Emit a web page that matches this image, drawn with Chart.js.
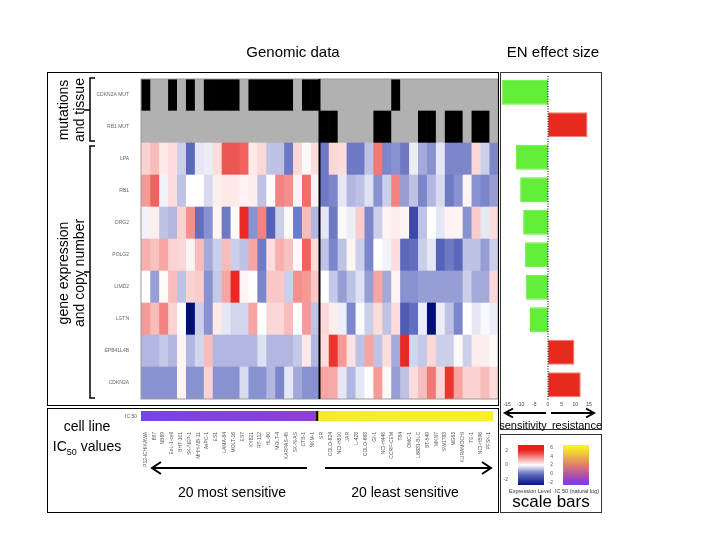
<!DOCTYPE html>
<html>
<head>
<meta charset="utf-8">
<script src="https://cdn.jsdelivr.net/npm/chart.js@4.4.1/dist/chart.umd.min.js"></script>
<style>
  body { margin: 0; background: #fff; }
  #page { position: relative; width: 720px; height: 540px; overflow: hidden; font-family: "Liberation Sans", Arial, sans-serif; }
  canvas { position: absolute; }
  #overlay { position: absolute; left: 0; top: 0; pointer-events: none; }
</style>
</head>
<body>
<div id="page">
  <canvas id="heat" width="451" height="334" style="left:47px;top:72px"></canvas>
  <canvas id="ic50" width="451" height="72" style="left:47px;top:408px"></canvas>
  <canvas id="effect" width="102" height="338" style="left:500px;top:72px"></canvas>
  <canvas id="barExpr" width="44" height="50" style="left:503px;top:440px"></canvas>
  <canvas id="barIc50" width="44" height="50" style="left:548px;top:440px"></canvas>
  <svg id="overlay" width="720" height="540" font-family="Liberation Sans, Arial, sans-serif">
    <g fill="none" stroke="#000" stroke-width="1">
      <rect x="47.5" y="72.5" width="451" height="333"/>
      <rect x="47.5" y="408.5" width="451" height="104"/>
      <rect x="500.5" y="72.5" width="101" height="357" stroke="#333"/>
      <rect x="500.5" y="434.5" width="101" height="78" stroke="#333"/>
    </g>
    <g fill="none" stroke="#000" stroke-width="1.5">
      <path d="M95,78 H90 V141 H95 M90,110 H84"/>
      <path d="M95,146 H90 V398 H95 M90,272 H84"/>
    </g>
    <g fill="none" stroke="#000" stroke-width="2">
      <path d="M307,468 H153 M161,462 L152,468 L161,474"/>
      <path d="M325,468 H490 M482,462 L491,468 L482,474"/>
      <path d="M546,413 H507 M513,408.5 L505,413 L513,417.5"/>
      <path d="M551,413 H592 M586,408.5 L594,413 L586,417.5"/>
    </g>
    <g fill="#000">
      <text x="293" y="57" font-size="15" text-anchor="middle">Genomic data</text>
      <text x="553" y="57" font-size="15" text-anchor="middle">EN effect size</text>
      <text transform="translate(68,110) rotate(-90)" font-size="14" text-anchor="middle">mutations</text>
      <text transform="translate(84,110) rotate(-90)" font-size="14" text-anchor="middle">and tissue</text>
      <text transform="translate(68,273) rotate(-90)" font-size="14" text-anchor="middle">gene expression</text>
      <text transform="translate(84,273) rotate(-90)" font-size="14" text-anchor="middle">and copy number</text>
      <text x="87" y="431" font-size="14" text-anchor="middle">cell line</text>
      <text x="87" y="451" font-size="14" text-anchor="middle">IC<tspan font-size="9" dy="4">50</tspan><tspan dy="-4"> values</tspan></text>
      <text x="232" y="497" font-size="14" text-anchor="middle">20 most sensitive</text>
      <text x="405" y="497" font-size="14" text-anchor="middle">20 least sensitive</text>
      <text x="523" y="429" font-size="11" text-anchor="middle">sensitivity</text>
      <text x="577" y="429" font-size="11" text-anchor="middle">resistance</text>
      <text x="530" y="493" font-size="5.5" text-anchor="middle" fill="#333">Expression Level</text>
      <text x="577" y="493" font-size="5.5" text-anchor="middle" fill="#333">IC 50 (natural log)</text>
      <text x="551" y="507" font-size="17" text-anchor="middle">scale bars</text>
      <text x="137" y="418" font-size="5" text-anchor="end" fill="#555">IC 50</text>
    </g>
  </svg>
</div>
<script>
// cell lines, ordered from most to least sensitive
const cellLines = ['P12-ICHIKAWA', '697', 'NB69', 'EoL-1-cell', 'BHT-101', 'SK-NEP-1', 'MHH-NB-11', 'AsPC-1', 'ES1', 'LAMA-84',
  'MOLT-16', 'ES7', 'KY821', 'RT-112', 'HL-60', 'MOLT-4', 'KARPAS-45', 'SK-N-AS', 'CTB-1', 'NKM-1',
  'SR', 'COLO-824', 'NCI-H510', 'JAR', 'L-428', 'COLO-668', 'GI-1', 'NCI-H446', 'CCRF-CEM', 'T84',
  'OMC-1', 'LB831-BLC', 'BT-549', 'MKN7', 'SW1783', 'MG63', 'KURAMOCHI', 'TE-1', 'NCI-H596', 'PFSK-1'];

const rowLabels = ['CDKN2A MUT', 'RB1 MUT', 'LPA', 'RB1', 'DRG2', 'POLG2', 'LIMD2', 'LGTN', 'EPB41L4B', 'CDKN2A'];

// mutation status (1 = mutated)
const cdkn2aMut = [1,0,0,1,0,1,0,1,1,1, 1,0,1,1,1,1,1,0,1,1, 0,0,0,0,0,0,0,0,1,0, 0,0,0,0,0,0,0,0,0,0];
const rb1Mut    = [0,0,0,0,0,0,0,0,0,0, 0,0,0,0,0,0,0,0,0,0, 1,1,0,0,0,0,1,1,0,0, 0,1,1,0,1,1,0,1,1,0];

// expression / copy number levels
const lpa = [0.4,0.6,0.2,0.3,-0.4,-1.3,-0.2,-0.15,0.3,1.5, 1.5,1.4,0.2,0.35,-0.5,-0.5,-1.1,0.35,0.05,0.3,
  -1.1,0.35,0.3,-1.1,-1.1,-0.5,1.2,-1.0,-0.9,-1.1, -0.15,-0.7,-0.9,-0.2,-1.0,-1.0,-1.0,0.35,-0.4,-1.0];
const rb1 = [0.9,1.4,-0.1,0.3,-0.5,0,0,-0.3,0.15,0.2, 0.2,0.1,0.15,-0.5,0,1.1,1.0,0.1,1.3,0.1,
  -1.1,-1.0,-0.2,-0.6,-0.5,-0.25,-0.9,-0.4,1.1,-0.8, -0.5,-1.0,-0.6,-0.3,-1.1,-0.9,0.1,-0.9,-1.0,-0.8];
const drg2 = [-0.1,0.15,-0.5,-0.6,0.4,1.0,-1.2,-0.9,0.1,-1.1, 0.05,1.9,-0.9,1.1,-1.4,-0.4,0.05,-1.1,0.6,-0.6,
  -0.2,-1.1,0.05,-0.15,0.45,-1.0,-0.4,0.1,0.15,0.1, -1.8,-0.5,0,-0.2,0.1,0.1,-0.9,0.45,-0.2,0.3];
const polg2 = [0.7,0.55,0.8,0.4,0.35,0.1,0.6,-0.7,-0.4,0.6, -0.4,-0.5,0.8,-1.1,0.3,0.7,0.55,0.05,1.4,0.3,
  -0.5,-1.0,-0.5,0.1,-0.4,-1.0,0,-0.1,0.3,-1.3, -1.2,-0.4,-0.2,-1.4,-1.1,-1.3,-0.5,-0.5,-0.8,-0.4];
const limd2 = [0,-0.8,0.05,0.6,-0.5,0.4,0.45,-0.9,-0.45,0.8, 1.9,0.1,0,-1.0,0.5,0.5,-0.4,1.0,0.9,0.5,
  0,-0.45,-0.8,-0.5,-0.25,-0.8,0.8,-0.7,0.1,-0.9, -0.9,-0.8,-0.8,-0.8,-0.8,-0.8,-0.4,-0.7,-0.7,0.35];
const lgtn = [0.9,0.6,1.1,0.4,0,-2.8,-0.4,-0.9,0.2,-0.2, -0.35,-0.35,0.8,0,0.35,0.35,0.6,0,0.9,-0.5,
  0.35,0.15,-0.15,-1.0,-0.05,-0.4,0.3,-0.5,0.3,-1.5, -1.2,-0.15,-2.8,-0.15,-0.5,-1.0,0,-0.2,-0.05,-0.15];
const epb41l4b = [-0.6,-0.6,-0.45,-0.6,0.1,-0.6,-0.35,0.6,-0.6,-0.6, -0.6,-0.6,-0.6,-0.25,-0.6,-0.6,-0.6,-0.45,0.2,-0.6,
  0.3,1.8,0.9,0.25,-0.5,0.8,-0.5,0.3,-0.7,1.9, -0.35,-0.45,0.35,-0.4,-0.4,0.05,-0.4,0.15,0.15,0.05];
const cdkn2a = [-0.9,-0.9,-0.9,-0.9,0.1,-0.9,-0.9,0.4,-0.9,-0.9, -0.9,-0.3,-0.9,-0.9,-0.6,-1.0,-0.2,-0.7,-0.9,-0.9,
  0.8,0.75,-0.2,-0.6,-0.2,0,0.9,0.05,-0.8,-0.5, 0.3,0.6,1.2,0.35,1.8,0.8,0.4,0.4,0.6,0.3];

// IC50 (natural log)
const ic50 = [-2.4,-2.35,-2.3,-2.3,-2.25,-2.2,-2.2,-2.15,-2.1,-2.1, -2.05,-2.0,-2.0,-1.95,-1.9,-1.9,-1.85,-1.8,-1.75,-1.7,
  5.9,5.9,5.95,5.95,6.0,6.0,6.0,6.05,6.05,6.1, 6.1,6.1,6.15,6.15,6.2,6.2,6.2,6.25,6.25,6.3];

// elastic net effect size per feature
const effectSize = [-17, 14.5, -11.8, -10.2, -9.1, -8.4, -8.2, -6.6, 9.7, 12];
const effectTicks = [-15, -10, -5, 0, 5, 10, 15];
const exprTicks = [-2, 0, 2];
const ic50Ticks = [-2, 0, 2, 4, 6];

Chart.defaults.font.family = '"Liberation Sans", Arial, sans-serif';
Chart.defaults.animation = false;
Chart.defaults.responsive = false;
Chart.defaults.plugins.legend.display = false;
Chart.defaults.plugins.tooltip.enabled = false;

const mutRows = [cdkn2aMut, rb1Mut];
const exprRows = [lpa, rb1, drg2, polg2, limd2, lgtn, epb41l4b, cdkn2a];

function mix(a, b, t) {
    return a.map((v, i) => Math.round(v + (b[i] - v) * t));
}
function rgb(c) { return 'rgb(' + c.join(',') + ')'; }

function exprColor(v) {
    if (v >= 0) return rgb(mix([255, 255, 255], [232, 30, 24], Math.min(v / 2, 1)));
    if (v >= -1.2) return rgb(mix([255, 255, 255], [98, 110, 192], -v / 1.2));
    return rgb(mix([98, 110, 192], [0, 14, 120], Math.min((-v - 1.2) / 1.6, 1)));
}

function ic50Color(v) {
    const stops = [[-2.6, [112, 68, 236]], [-1.5, [150, 62, 206]], [2, [225, 125, 105]], [6, [247, 236, 42]], [6.6, [250, 245, 30]]];
    if (v <= stops[0][0]) return rgb(stops[0][1]);
    for (let i = 1; i < stops.length; i++) {
        if (v <= stops[i][0]) {
            const t = (v - stops[i - 1][0]) / (stops[i][0] - stops[i - 1][0]);
            return rgb(mix(stops[i - 1][1], stops[i][1], t));
        }
    }
    return rgb(stops[stops.length - 1][1]);
}

function cellColor(row, col) {
    if (row < 2) return mutRows[row][col] ? '#000000' : '#b1b1b1';
    return exprColor(exprRows[row - 2][col]);
}

// black line between the two groups of cell lines
const splitLine = {
    id: 'splitLine',
    afterDatasetsDraw(chart, args, opts) {
        const x = chart.scales.x;
        const a = chart.chartArea;
        const px = opts.category ? (x.getPixelForValue(19) + x.getPixelForValue(20)) / 2 : x.getPixelForValue(20);
        const ctx = chart.ctx;
        ctx.save();
        if (opts.frame) {
            ctx.strokeStyle = '#999';
            ctx.lineWidth = 1;
            ctx.strokeRect(a.left, a.top, a.right - a.left, a.bottom - a.top);
        }
        ctx.strokeStyle = '#000';
        ctx.lineWidth = 2;
        ctx.beginPath();
        ctx.moveTo(px, a.top);
        ctx.lineTo(px, a.bottom);
        ctx.stroke();
        ctx.restore();
    }
};

// heatmap: one stacked horizontal bar segment per cell line and feature
new Chart(document.getElementById('heat'), {
    type: 'bar',
    data: {
        labels: rowLabels,
        datasets: cellLines.map(function(name, col) {
            return {
                label: name,
                data: rowLabels.map(() => 1),
                backgroundColor: rowLabels.map((r, row) => cellColor(row, col)),
                borderWidth: 0,
                barPercentage: 1,
                categoryPercentage: 1
            };
        })
    },
    options: {
        indexAxis: 'y',
        layout: { padding: { top: 4, bottom: 1, left: 0, right: 0 } },
        scales: {
            x: { stacked: true, min: 0, max: cellLines.length, display: false },
            y: {
                stacked: true,
                grid: { display: false },
                border: { display: false },
                ticks: { font: { size: 5 }, color: '#666', padding: 4 },
                afterFit: function(s) { s.width = 94; }
            }
        },
        plugins: { splitLine: { frame: true } }
    },
    plugins: [splitLine]
});

// IC50 strip with cell line names
new Chart(document.getElementById('ic50'), {
    type: 'bar',
    data: {
        labels: cellLines,
        datasets: [{
            data: cellLines.map(() => 1),
            backgroundColor: ic50.map(ic50Color),
            borderWidth: 0,
            barPercentage: 1,
            categoryPercentage: 1
        }]
    },
    options: {
        layout: { padding: { top: 3, left: 94, right: 0, bottom: 0 } },
        scales: {
            x: {
                grid: { display: false },
                border: { display: false },
                ticks: { autoSkip: false, minRotation: 90, maxRotation: 90, font: { size: 5 }, color: '#555', padding: 3 },
                afterFit: function(s) { s.height = 59; }
            },
            y: { min: 0, max: 1, display: false }
        },
        plugins: { splitLine: { category: true } }
    },
    plugins: [splitLine]
});

// dotted zero line for the effect size panel
const zeroLine = {
    id: 'zeroLine',
    afterDatasetsDraw(chart) {
        const px = chart.scales.x.getPixelForValue(0);
        const a = chart.chartArea;
        const ctx = chart.ctx;
        ctx.save();
        ctx.strokeStyle = '#000';
        ctx.lineWidth = 1;
        ctx.setLineDash([1, 1.5]);
        ctx.beginPath();
        ctx.moveTo(px, a.top);
        ctx.lineTo(px, a.bottom);
        ctx.stroke();
        ctx.restore();
    }
};

new Chart(document.getElementById('effect'), {
    type: 'bar',
    data: {
        labels: rowLabels,
        datasets: [{
            data: effectSize,
            backgroundColor: effectSize.map(v => v < 0 ? '#62ee38' : '#e62a1e'),
            borderColor: effectSize.map(v => v < 0 ? '#62ee38' : '#f07a70'),
            borderWidth: 1,
            borderSkipped: false,
            barPercentage: 0.77,
            categoryPercentage: 1
        }]
    },
    options: {
        indexAxis: 'y',
        layout: { padding: { top: 4, left: 0, right: 0, bottom: 0 } },
        scales: {
            x: {
                min: -17.6, max: 19.8,
                afterBuildTicks: function(s) { s.ticks = effectTicks.map(v => ({ value: v })); },
                grid: { display: false, drawTicks: false },
                border: { display: false },
                ticks: { font: { size: 5 }, color: '#444', padding: 1, autoSkip: false, maxRotation: 0 },
                afterFit: function(s) { s.height = 9; }
            },
            y: { display: false }
        }
    },
    plugins: [zeroLine]
});

// colour scale bars
function scaleBar(id, lo, hi, ticks, colorFn) {
    new Chart(document.getElementById(id), {
        type: 'bar',
        data: {
            labels: [''],
            datasets: [{
                data: [[lo, hi]],
                backgroundColor: function(c) {
                    const a = c.chart.chartArea;
                    if (!a) return '#fff';
                    const g = c.chart.ctx.createLinearGradient(0, a.bottom, 0, a.top);
                    for (let i = 0; i <= 20; i++) g.addColorStop(i / 20, colorFn(lo + (hi - lo) * i / 20));
                    return g;
                },
                borderWidth: 0,
                borderSkipped: false,
                barPercentage: 1,
                categoryPercentage: 1
            }]
        },
        options: {
            layout: { padding: { top: 3, left: 0, right: 3, bottom: 5 } },
            scales: {
                x: { display: false },
                y: {
                    min: lo, max: hi,
                    afterBuildTicks: function(s) { s.ticks = ticks.map(v => ({ value: v })); },
                    grid: { display: false },
                    border: { display: false },
                    ticks: { font: { size: 5 }, color: '#555', padding: 2 },
                    afterFit: function(s) { s.width = 15; }
                }
            }
        }
    });
}

scaleBar('barExpr', -2.7, 2.7, exprTicks, exprColor);
scaleBar('barIc50', -2.6, 6.6, ic50Ticks, ic50Color);
</script>
</body>
</html>
